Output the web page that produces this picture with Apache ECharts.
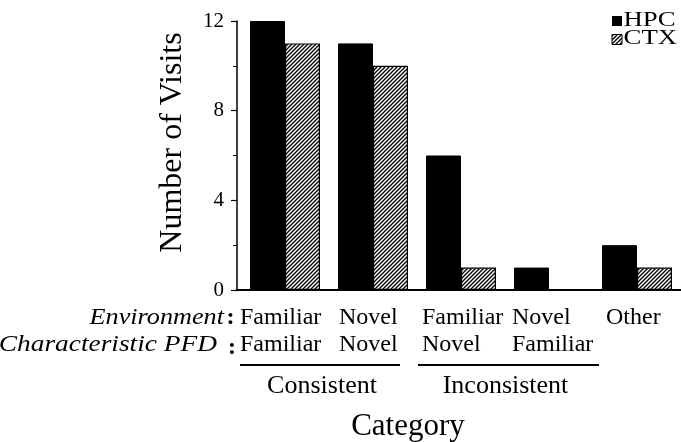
<!DOCTYPE html>
<html>
<head>
<meta charset="utf-8">
<script src="https://cdn.jsdelivr.net/npm/echarts@6/dist/echarts.min.js"></script>
<style>
  html, body { margin: 0; padding: 0; background: #fff; }
  #chart { width: 681px; height: 442px; }
</style>
</head>
<body>
<div id="chart"></div>
<script>
// Visits per category, split by recording region
const environmentRow = ['Familiar', 'Novel', 'Familiar', 'Novel', 'Other'];
const pfdRow = ['Familiar', 'Novel', 'Novel', 'Familiar', ''];
const categories = environmentRow.map((e, i) => pfdRow[i] ? e + ' / ' + pfdRow[i] : e);
const hpcVisits = [12, 11, 6, 1, 2];
const ctxVisits = [11, 10, 1, 0, 1];
const seriesNames = ['HPC', 'CTX'];
const groupNames = ['Consistent', 'Inconsistent'];
const yMax = 12;
const yStep = 4;

// Horizontal nudges of the two-row category labels relative to each category centre
const labelShift = [-45, -34, -39, -37, -31];

const SERIF = "'Liberation Serif', 'Times New Roman', serif";

// Diagonal hatch used for the CTX bars
function makeHatch() {
  const c = document.createElement('canvas');
  const s = 4;
  c.width = s; c.height = s;
  const g = c.getContext('2d');
  g.fillStyle = '#fff';
  g.fillRect(0, 0, s, s);
  g.strokeStyle = '#000';
  g.lineWidth = 1.3;
  g.beginPath();
  g.moveTo(-1, s + 1); g.lineTo(s + 1, -1);
  g.moveTo(-1, 1); g.lineTo(1, -1);
  g.moveTo(s - 1, s + 1); g.lineTo(s + 1, s - 1);
  g.stroke();
  return c;
}
const hatch = { image: makeHatch(), repeat: 'repeat' };

const chart = echarts.init(document.getElementById('chart'), null, { renderer: 'canvas' });

chart.setOption({
  backgroundColor: '#fff',
  animation: false,
  grid: { left: 241, right: 0, top: 21, bottom: 152, containLabel: false },
  xAxis: {
    type: 'category',
    data: categories,
    axisLine: { show: true, lineStyle: { color: '#000', width: 2 } },
    axisTick: { show: false },
    axisLabel: { show: false },
    splitLine: { show: false }
  },
  yAxis: {
    type: 'value',
    min: 0,
    max: yMax,
    interval: yStep,
    offset: 4,
    axisLine: { show: true, lineStyle: { color: '#000', width: 1.5 } },
    axisTick: { show: true, length: 6, lineStyle: { color: '#000', width: 1.2 } },
    minorTick: { show: true, splitNumber: 2, length: 4, lineStyle: { color: '#000', width: 1 } },
    splitLine: { show: false },
    axisLabel: { color: '#000', fontFamily: SERIF, fontSize: 21, margin: 13 }
  },
  series: [
    {
      name: seriesNames[0],
      type: 'bar',
      data: hpcVisits,
      barWidth: 35,
      barGap: '0%',
      itemStyle: { color: '#000', borderColor: '#000', borderWidth: 1 }
    },
    {
      name: seriesNames[1],
      type: 'bar',
      data: ctxVisits,
      barWidth: 35,
      barGap: '0%',
      itemStyle: { color: hatch, borderColor: '#000', borderWidth: 1.2 }
    }
  ]
});

// Annotation layer: axis title, two-row category labels, grouping rules and key
const yZero = chart.convertToPixel({ yAxisIndex: 0 }, 0);
const gridLeft = chart.convertToPixel({ xAxisIndex: 0 }, 0) - 44;
const centers = categories.map((_, i) => chart.convertToPixel({ xAxisIndex: 0 }, i));

function txt(text, x, y, size, opts) {
  opts = opts || {};
  return {
    type: 'text',
    x: x, y: y,
    rotation: opts.rotation || 0,
    scaleX: opts.scaleX || 1,
    style: {
      text: text,
      fill: '#000',
      font: (opts.italic ? 'italic ' : '') + (opts.bold ? 'bold ' : '') + size + 'px ' + SERIF,
      align: opts.align || 'left',
      verticalAlign: 'middle'
    }
  };
}

const elements = [];

// close the corner between the offset value axis and the category baseline
elements.push({
  type: 'line',
  shape: { x1: gridLeft - 5, y1: yZero, x2: gridLeft + 1, y2: yZero },
  style: { stroke: '#000', lineWidth: 2 }
});

// value axis title
elements.push(txt('Number of Visits', 172.5, 142.5, 32, { rotation: Math.PI / 2, align: 'center' }));

// row headings
elements.push(txt('Environment', 224, 318, 23, { italic: true, align: 'right', scaleX: 1.14 }));
elements.push(txt(':', 226.5, 318, 24, { bold: true }));
elements.push(txt('Characteristic PFD', 217, 344.5, 23, { italic: true, align: 'right', scaleX: 1.19 }));
elements.push(txt(':', 228, 348, 24, { bold: true }));

// two-row category labels
centers.forEach((cx, i) => {
  elements.push(txt(environmentRow[i], cx + labelShift[i], 318, 24));
  if (pfdRow[i]) elements.push(txt(pfdRow[i], cx + labelShift[i], 344.5, 24));
});

// grouping rules and their names
const rules = [[240, 400], [418, 599]];
rules.forEach((r) => {
  elements.push({
    type: 'line',
    shape: { x1: r[0], y1: 365, x2: r[1], y2: 365 },
    style: { stroke: '#000', lineWidth: 2 }
  });
});
elements.push(txt(groupNames[0], 322, 386, 26, { align: 'center' }));
elements.push(txt(groupNames[1], 505.5, 386, 26, { align: 'center' }));

// category axis title
elements.push(txt('Category', 408, 426.5, 31, { align: 'center' }));

// key
elements.push({
  type: 'rect',
  shape: { x: 612, y: 16, width: 10, height: 10 },
  style: { fill: '#000' }
});
elements.push(txt(seriesNames[0], 623.5, 20.5, 20, { scaleX: 1.34 }));
elements.push({
  type: 'rect',
  shape: { x: 612, y: 34.5, width: 10, height: 10 },
  style: { fill: hatch, stroke: '#000', lineWidth: 1 }
});
elements.push(txt(seriesNames[1], 623.5, 39, 20, { scaleX: 1.34 }));

chart.setOption({ graphic: { elements: elements } });
</script>
</body>
</html>
